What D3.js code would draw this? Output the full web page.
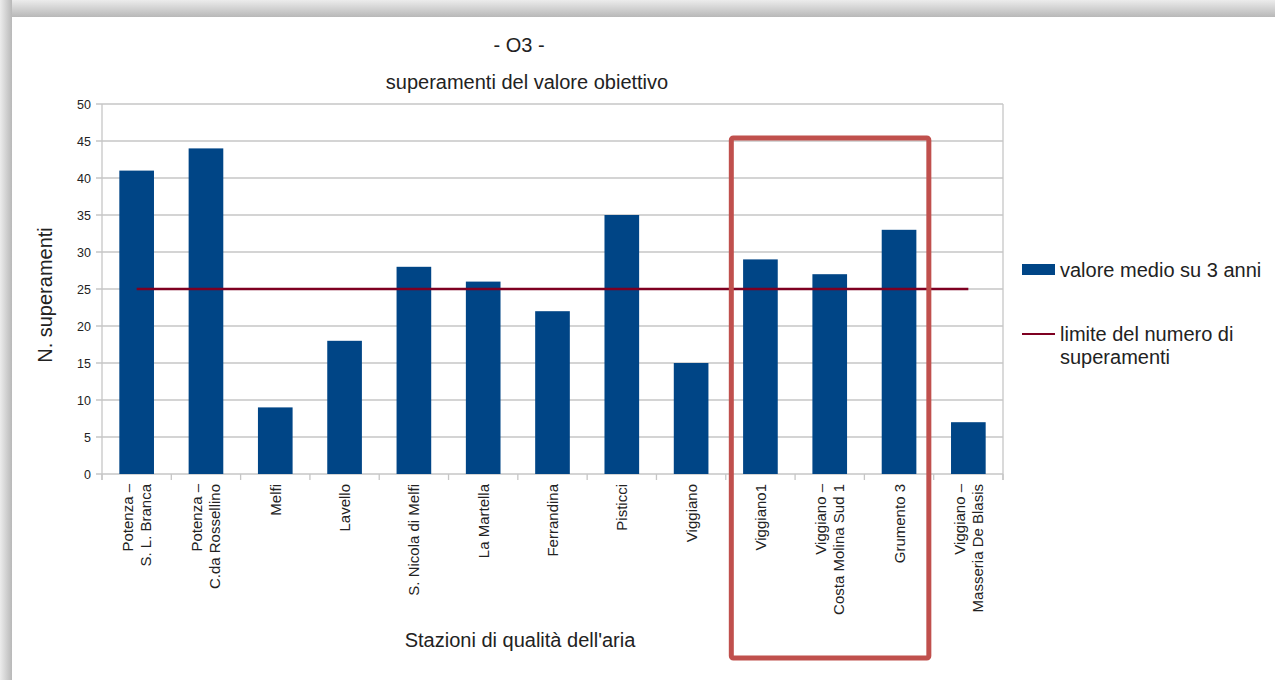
<!DOCTYPE html>
<html>
<head>
<meta charset="utf-8">
<script src="https://cdn.jsdelivr.net/npm/d3@7"></script>
<style>
  body { margin: 0; background: #fff; }
  text { font-family: "Liberation Sans", Arial, sans-serif; fill: #222; }
</style>
</head>
<body>
<div id="chart"></div>
<script>
// Stations (each label can span two lines)
const stations = [
    ["Potenza –", "S. L. Branca"],
    ["Potenza –", "C.da Rossellino"],
    ["Melfi"],
    ["Lavello"],
    ["S. Nicola di Melfi"],
    ["La Martella"],
    ["Ferrandina"],
    ["Pisticci"],
    ["Viggiano"],
    ["Viggiano1"],
    ["Viggiano –", "Costa Molina Sud 1"],
    ["Grumento 3"],
    ["Viggiano –", "Masseria De Blasis"]
];
const mediaTreAnni = [41, 44, 9, 18, 28, 26, 22, 35, 15, 29, 27, 33, 7];
const limite = 25;
const yTicks = [0, 5, 10, 15, 20, 25, 30, 35, 40, 45, 50];
// stations highlighted by the red box
const highlighted = ["Viggiano1", "Viggiano – Costa Molina Sud 1", "Grumento 3"];

const W = 1275, H = 680;
const margin = { top: 104, left: 102, right: 272, bottom: 206 };
const width = W - margin.left - margin.right,
      height = H - margin.top - margin.bottom;

const names = stations.map(s => s.join(" "));

const svg = d3.select('#chart').append('svg')
    .attr('width', W)
    .attr('height', H);

// grey frame shadow, top and left edges
const shade = svg.append('defs');
const gTop = shade.append('linearGradient').attr('id', 'shTop')
    .attr('x1', 0).attr('y1', 0).attr('x2', 0).attr('y2', 1);
gTop.append('stop').attr('offset', '0%').attr('stop-color', '#ececec');
gTop.append('stop').attr('offset', '100%').attr('stop-color', '#b8b8b8');
const gLeft = shade.append('linearGradient').attr('id', 'shLeft')
    .attr('x1', 0).attr('y1', 0).attr('x2', 1).attr('y2', 0);
gLeft.append('stop').attr('offset', '0%').attr('stop-color', '#ececec');
gLeft.append('stop').attr('offset', '100%').attr('stop-color', '#b8b8b8');
svg.append('rect').attr('x', 0).attr('y', 0).attr('width', W).attr('height', 17).attr('fill', 'url(#shTop)');
svg.append('rect').attr('x', 0).attr('y', 0).attr('width', 12).attr('height', H).attr('fill', 'url(#shLeft)');

// titles
svg.append('text')
    .attr('x', 519).attr('y', 52)
    .attr('text-anchor', 'middle')
    .style('font-size', '20px')
    .text('- O3 -');
svg.append('text')
    .attr('x', 527).attr('y', 89)
    .attr('text-anchor', 'middle')
    .style('font-size', '20px')
    .text('superamenti del valore obiettivo');

const g = svg.append('g')
    .attr('transform', 'translate(' + margin.left + ',' + margin.top + ')');

const xScale = d3.scaleBand()
    .domain(names)
    .range([0, width])
    .paddingInner(0.5)
    .paddingOuter(0.25);

const yScale = d3.scaleLinear()
    .domain([0, 50])
    .range([height, 0]);

// gridlines
g.append('g')
    .selectAll('line')
    .data(yTicks)
    .enter().append('line')
    .attr('x1', -6).attr('x2', width)
    .attr('y1', d => yScale(d)).attr('y2', d => yScale(d))
    .attr('stroke', '#c6c6c6')
    .attr('stroke-width', 1.3);

// y axis
const yAxis = g.append('g')
    .call(d3.axisLeft(yScale).tickValues(yTicks).tickSize(0).tickPadding(11));
yAxis.select('.domain').remove();
yAxis.selectAll('text').style('font-size', '12.5px').attr('fill', '#222');

// frame left / right
g.append('line').attr('x1', 0).attr('x2', 0).attr('y1', 0).attr('y2', height + 6)
    .attr('stroke', '#c6c6c6').attr('stroke-width', 1.3);
g.append('line').attr('x1', width).attr('x2', width).attr('y1', 0).attr('y2', height + 6)
    .attr('stroke', '#c6c6c6').attr('stroke-width', 1.3);

// x ticks at category boundaries
const step = xScale.step();
const bounds = d3.range(names.length + 1).map(i => i * width / names.length);
g.append('g')
    .selectAll('line')
    .data(bounds)
    .enter().append('line')
    .attr('x1', d => d).attr('x2', d => d)
    .attr('y1', height).attr('y2', height + 6)
    .attr('stroke', '#c6c6c6').attr('stroke-width', 1.3);

// bars
g.append('g')
    .selectAll('rect')
    .data(mediaTreAnni)
    .enter().append('rect')
    .attr('x', (d, i) => xScale(names[i]))
    .attr('width', xScale.bandwidth())
    .attr('y', d => yScale(d))
    .attr('height', d => height - yScale(d))
    .attr('fill', '#004586');

// limit line from first to last category centre
const cx = n => xScale(n) + xScale.bandwidth() / 2;
g.append('line')
    .attr('x1', cx(names[0]))
    .attr('x2', cx(names[names.length - 1]))
    .attr('y1', yScale(limite)).attr('y2', yScale(limite))
    .attr('stroke', '#7e0021')
    .attr('stroke-width', 2.5);

// x labels, rotated
const labels = g.append('g')
    .selectAll('g')
    .data(stations)
    .enter().append('g')
    .attr('transform', (d, i) => 'translate(' + cx(names[i]) + ',' + (height + 10) + ') rotate(-90)');
labels.each(function (d) {
    const lg = d3.select(this);
    d.forEach((line, j) => {
        lg.append('text')
            .attr('x', 0)
            .attr('y', (j - (d.length - 1) / 2) * 18 + 5.5)
            .attr('text-anchor', 'end')
            .style('font-size', '15px')
            .text(line);
    });
});

// axis titles
svg.append('text')
    .attr('x', 520).attr('y', 647)
    .attr('text-anchor', 'middle')
    .style('font-size', '20px')
    .text("Stazioni di qualità dell'aria");
svg.append('text')
    .attr('transform', 'translate(52,295) rotate(-90)')
    .attr('text-anchor', 'middle')
    .style('font-size', '20px')
    .text('N. superamenti');

// legend
const legend = svg.append('g').attr('transform', 'translate(1022,0)');
legend.append('rect')
    .attr('x', 0).attr('y', 264).attr('width', 33).attr('height', 11)
    .attr('fill', '#004586');
legend.append('text').attr('x', 38).attr('y', 277)
    .style('font-size', '20px').text('valore medio su 3 anni');
legend.append('line')
    .attr('x1', 0).attr('x2', 33).attr('y1', 334).attr('y2', 334)
    .attr('stroke', '#7e0021').attr('stroke-width', 2);
legend.append('text').attr('x', 38).attr('y', 341)
    .style('font-size', '20px').text('limite del numero di');
legend.append('text').attr('x', 38).attr('y', 364)
    .style('font-size', '20px').text('superamenti');

// red highlight box around the selected stations
const hx0 = xScale(highlighted[0]) - step * 0.17;
const hx1 = xScale(highlighted[highlighted.length - 1]) + xScale.bandwidth() + step * 0.18;
svg.append('rect')
    .attr('x', margin.left + hx0)
    .attr('y', 138)
    .attr('width', hx1 - hx0)
    .attr('height', 520)
    .attr('rx', 2)
    .attr('fill', 'none')
    .attr('stroke', '#c0504d')
    .attr('stroke-width', 5);
</script>
</body>
</html>
